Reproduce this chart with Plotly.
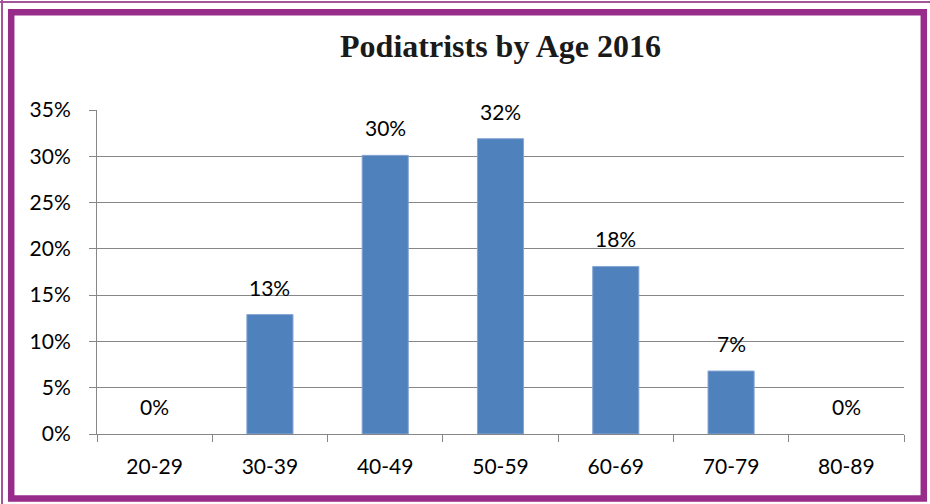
import plotly.graph_objects as go

# Age bands and share of podiatrists in each band
age_groups = ["20-29", "30-39", "40-49", "50-59", "60-69", "70-79", "80-89"]
shares = [0.0, 0.129, 0.301, 0.319, 0.181, 0.068, 0.0]
y_ticks = [0.0, 0.05, 0.10, 0.15, 0.20, 0.25, 0.30, 0.35]

W, H = 930, 504
L, R, T, B = 97, 26, 110, 70
PW, PH = W - L - R, H - T - B

BAR = "#4F81BD"
GRID = "#878787"
PURPLE = "#972C8B"
THIN_PURPLE = "#A5549A"
FONT = "Lato"


def px_x(p):
    return (p - L) / PW


def px_y(p):
    return (H - B - p) / PH


fig = go.Figure(
    go.Bar(
        x=age_groups,
        y=shares,
        marker=dict(
            color=BAR,
            line=dict(color="#86A5D3", width=[1 if v > 0 else 0 for v in shares]),
        ),
        hoverinfo="skip",
    )
)

# value labels above each bar, formatted from the bar value
for g, v in zip(age_groups, shares):
    fig.add_annotation(
        x=g, y=v, xref="x", yref="y",
        text=f"{v:.0%}",
        showarrow=False, yanchor="bottom", yshift=13,
        font=dict(family=FONT, size=21, color="#000000"),
    )

# outer decorative frame
shapes = [
    dict(type="rect", xref="paper", yref="paper",
         x0=px_x(11.2), x1=px_x(923.8), y0=px_y(498.6), y1=px_y(12.2),
         line=dict(color=PURPLE, width=6.5), fillcolor="rgba(0,0,0,0)", layer="above"),
    dict(type="line", xref="paper", yref="paper",
         x0=px_x(0), x1=px_x(930), y0=px_y(2), y1=px_y(2),
         line=dict(color=THIN_PURPLE, width=2)),
    dict(type="line", xref="paper", yref="paper",
         x0=px_x(2), x1=px_x(2), y0=px_y(0), y1=px_y(504),
         line=dict(color=THIN_PURPLE, width=2)),
]

fig.update_layout(
    width=W, height=H,
    margin=dict(l=L, r=R, t=T, b=B, pad=0),
    paper_bgcolor="white", plot_bgcolor="white",
    showlegend=False,
    bargap=0.6,
    shapes=shapes,
    title=dict(
        text="<b>Podiatrists by Age 2016</b>",
        x=px_x(500.5), xref="paper", xanchor="center",
        y=1 - 46 / H, yref="container", yanchor="middle",
        font=dict(family="Liberation Serif", size=32, color="#1a1a1a"),
    ),
    xaxis=dict(
        type="category",
        showline=True, linecolor=GRID, linewidth=1,
        ticks="outside", tickson="boundaries", ticklen=7, tickcolor=GRID, tickwidth=1,
        showgrid=False,
        tickfont=dict(family=FONT, size=21, color="#000000"),
        ticklabelstandoff=14,
    ),
    yaxis=dict(
        range=[0, 0.35],
        tickvals=y_ticks, tickformat=".0%",
        showline=True, linecolor=GRID, linewidth=1,
        ticks="outside", ticklen=7, tickcolor=GRID, tickwidth=1,
        showgrid=True, gridcolor=GRID, gridwidth=1,
        zeroline=False,
        tickfont=dict(family=FONT, size=21, color="#000000"),
        ticklabelstandoff=14,
    ),
)

fig.write_html("out.html")
